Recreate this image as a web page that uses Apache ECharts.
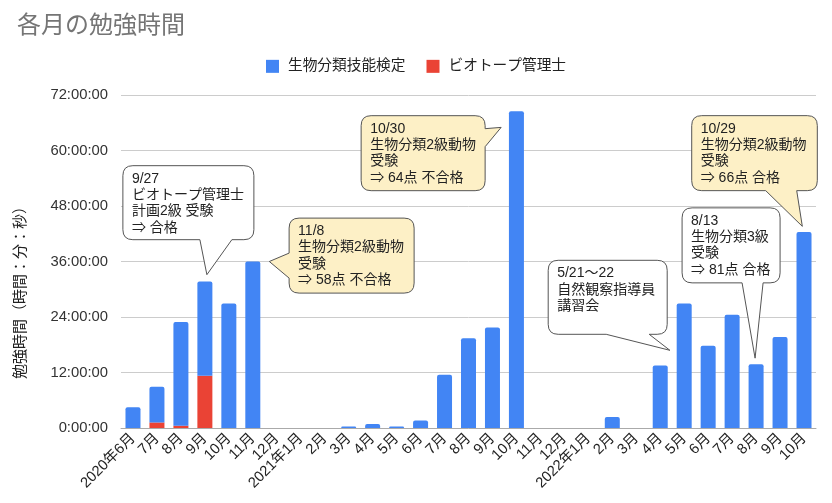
<!DOCTYPE html>
<html>
<head>
<meta charset="utf-8">
<script src="https://cdn.jsdelivr.net/npm/echarts@6/dist/echarts.min.js"></script>
<style>
html,body{margin:0;padding:0;background:#fff;}
#c{width:832px;height:503px;}
</style>
</head>
<body>
<div id="c"></div>
<script>
// ---- data ----
const months = ['2020年6月','7月','8月','9月','10月','11月','12月','2021年1月','2月','3月','4月','5月','6月','7月','8月','9月','10月','11月','12月','2022年1月','2月','3月','4月','5月','6月','7月','8月','9月','10月'];
// hours per month
const biologyHours = [4.5,7.7,22.4,20.4,26.9,36.0,0,0,0,0.3,0.85,0.3,1.6,11.5,19.4,21.75,68.5,0,0,0,2.4,0,13.5,26.9,17.8,24.5,13.8,19.7,42.4];
const biotopeHours = [0,1.2,0.5,11.3,0,0,0,0,0,0,0,0,0,0,0,0,0,0,0,0,0,0,0,0,0,0,0,0,0];
const yTicks = [0,12,24,36,48,60,72];
const seriesNames = ['生物分類技能検定','ビオトープ管理士'];
const yAxisTitle = '勉強時間（時間：分：秒）';

// annotations: month index, value at tail tip, text, kind
const noteMonthIdx = [3,5,16,23,26,28];
const noteValue = [33.15,36.0,65.0,16.8,15.1,43.6];
const noteTexts = [
  '9/27\nビオトープ管理士\n計画2級 受験\n⇒ 合格',
  '11/8\n生物分類2級動物\n受験\n⇒ 58点 不合格',
  '10/30\n生物分類2級動物\n受験\n⇒ 64点 不合格',
  '5/21～22\n自然観察指導員\n講習会',
  '8/13\n生物分類3級\n受験\n⇒ 81点 合格',
  '10/29\n生物分類2級動物\n受験\n⇒ 66点 合格'
];
const noteKind = ['white','yellow','yellow','white','white','yellow'];

// ---- layout of callouts (pixel offsets relative to the tail tip) ----
const noteLayout = [
  {dx:2,   bx:-84,   by:-109,  w:131, h:74, side:'bottom', a:77, b:109},
  {dx:16.5,bx:19.8,  by:-43.4, w:125, h:75, side:'left',   a:35, b:60},
  {dx:-15.3,bx:-140, by:-11.7, w:124, h:75, side:'right',  a:13, b:31},
  {dx:-14.3,bx:-121.7,by:-90,  w:119, h:74, side:'bottom', a:58, b:101},
  {dx:-1,  bx:-73,   by:-150.3,w:98,  h:75, side:'bottom', a:60, b:81},
  {dx:-1.7,bx:-110.6,by:-110.7,w:125.6,h:75, side:'bottom', a:74, b:105}
];
const kindFill = {white:'#ffffff', yellow:'#fdf0c6'};
const FONT = "'Liberation Sans', Arial, 'Noto Sans CJK JP', sans-serif";

function bubblePath(x,y,w,h,r,side,a,b,tx,ty){
  let p = 'M'+(x+r)+','+y+' L'+(x+w-r)+','+y+' Q'+(x+w)+','+y+' '+(x+w)+','+(y+r)+' ';
  if(side==='right') p += 'L'+(x+w)+','+(y+a)+' L'+tx+','+ty+' L'+(x+w)+','+(y+b)+' ';
  p += 'L'+(x+w)+','+(y+h-r)+' Q'+(x+w)+','+(y+h)+' '+(x+w-r)+','+(y+h)+' ';
  if(side==='bottom') p += 'L'+(x+b)+','+(y+h)+' L'+tx+','+ty+' L'+(x+a)+','+(y+h)+' ';
  p += 'L'+(x+r)+','+(y+h)+' Q'+x+','+(y+h)+' '+x+','+(y+h-r)+' ';
  if(side==='left') p += 'L'+x+','+(y+b)+' L'+tx+','+ty+' L'+x+','+(y+a)+' ';
  p += 'L'+x+','+(y+r)+' Q'+x+','+y+' '+(x+r)+','+y+' Z';
  return p;
}

const chart = echarts.init(document.getElementById('c'), null, {renderer:'canvas'});
const option = {
  animation:false,
  backgroundColor:'#ffffff',
  textStyle:{fontFamily:FONT},
  title:{
    text:'各月の勉強時間', left:12, top:9,
    textStyle:{fontSize:24, fontWeight:'normal', color:'#757575', fontFamily:FONT}
  },
  legend:{
    data:seriesNames, top:54, left:'center', icon:'rect',
    itemWidth:13, itemHeight:13, itemGap:21,
    textStyle:{fontSize:14.7, color:'#222', fontFamily:FONT, padding:[0,0,0,4]}
  },
  graphic:[{
    type:'text', x:21, y:289, rotation:Math.PI/2,
    style:{text:yAxisTitle, fontSize:15, fill:'#222', fontFamily:FONT, align:'center', verticalAlign:'middle'}
  }],
  grid:{left:121, right:16, top:95, bottom:75, containLabel:false, outerBoundsMode:'none'},
  xAxis:{
    type:'category', data:months,
    axisTick:{show:false},
    axisLine:{lineStyle:{color:'#aaaaaa'}},
    axisLabel:{interval:0, rotate:45, fontSize:14.7, color:'#222', margin:8, fontFamily:FONT}
  },
  yAxis:{
    type:'value', min:yTicks[0], max:yTicks[yTicks.length-1], interval:12,
    axisLine:{show:false}, axisTick:{show:false},
    splitLine:{lineStyle:{color:'#cccccc'}},
    axisLabel:{fontSize:14.8, color:'#333', margin:13, fontFamily:FONT,
      formatter:function(v){return v+':00:00';}}
  },
  series:[
    {name:seriesNames[1], type:'bar', stack:'t', data:biotopeHours, barWidth:15,
     itemStyle:{color:'#ea4335'}},
    {name:seriesNames[0], type:'bar', stack:'t', data:biologyHours, barWidth:15,
     itemStyle:{color:'#4285f4', borderRadius:[2,2,0,0]}},
    {name:'notes', type:'custom', coordinateSystem:'cartesian2d', silent:true, clip:false, z:10,
     data:noteMonthIdx.map(function(m,i){return [m, noteValue[i]];}),
     renderItem:function(params, api){
       const i = params.dataIndex;
       const p = api.coord([api.value(0), api.value(1)]);
       const L = noteLayout[i];
       const tx = p[0]+L.dx, ty = p[1];
       const bx = tx+L.bx, by = ty+L.by;
       return {type:'group', children:[
         {type:'path', shape:{pathData:bubblePath(bx,by,L.w,L.h,10,L.side,L.a,L.b,tx,ty)},
          style:{fill:kindFill[noteKind[i]], stroke:'#555555', lineWidth:1}},
         {type:'text', x:bx+9, y:by+5,
          style:{text:noteTexts[i], fill:'#222', fontSize:14, fontFamily:FONT, lineHeight:16.3, verticalAlign:'top', align:'left'}}
       ]};
     }}
  ]
};
chart.setOption(option);
</script>
</body>
</html>
